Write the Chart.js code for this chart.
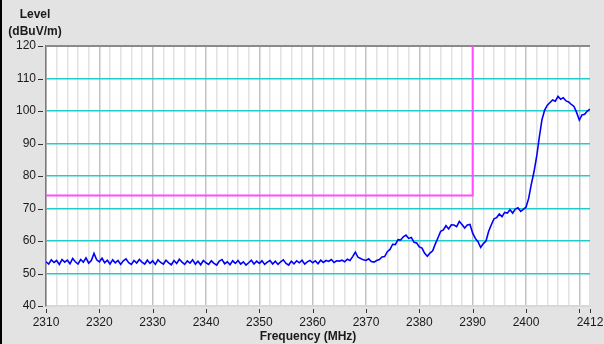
<!DOCTYPE html>
<html>
<head>
<meta charset="utf-8">
<script src="https://cdn.jsdelivr.net/npm/chart.js@4"></script>
<style>
  html, body { margin: 0; padding: 0; background: #e3e3e3; }
  #wrap { width: 604px; height: 344px; position: relative; }
</style>
</head>
<body>
<div id="wrap"><canvas id="levelChart" width="604" height="344"></canvas></div>
<script>
// sweep: 2310 .. 2412 MHz, one reading every 0.5 MHz
const freqStart = 2310;
const freqStep = 0.5;
const levels = [
  53.6, 52.9, 54.2, 53.4, 54.0, 52.8, 54.3, 53.5, 54.1, 53.0, 54.6, 53.6, 52.9, 54.3, 53.5, 54.8, 53.2, 54.0,
  56.2, 54.2, 53.6, 54.7, 53.3, 54.1, 52.9, 54.2, 53.3, 54.0, 52.8, 53.9, 54.5, 53.3, 52.8, 54.0, 53.2, 54.3, 53.5, 52.9, 54.1, 53.1,
  53.9, 52.8, 54.2, 53.4, 52.9, 54.1, 53.3, 52.7, 54.0, 53.1, 54.4, 53.5, 52.8, 53.9, 53.2, 54.2, 52.9, 53.8, 52.7, 54.0,
  53.3, 52.8, 53.9, 53.1, 52.6, 53.8, 54.3, 53.0, 53.6, 52.7, 53.9, 53.1, 54.0, 52.9, 53.6, 52.6, 53.3, 54.1, 52.9, 53.8,
  53.1, 53.9, 52.8, 53.5, 54.0, 52.9, 53.8, 52.8, 53.6, 54.2, 53.1, 52.6, 53.8, 53.0, 53.9, 53.3, 54.1, 52.9, 53.6, 54.0,
  53.3, 53.9, 53.0, 54.1, 53.4, 54.0, 53.7, 54.3, 53.4, 53.9, 53.8, 54.1, 53.6, 54.4, 54.0, 55.2, 56.6, 55.0, 54.6, 54.2,
  54.0, 54.5, 53.7, 53.5, 54.0, 54.3, 55.1, 55.2, 56.7, 57.4, 59.0, 58.9, 60.4, 60.3, 61.3, 61.8, 60.8, 61.1, 59.6, 59.4,
  58.2, 57.8, 56.2, 55.3, 56.3, 57.0, 59.1, 61.0, 63.0, 63.4, 64.7, 63.7, 65.0, 64.9, 64.4, 66.0, 65.1, 64.0, 64.9, 65.1,
  62.4, 60.8, 59.8, 58.0, 59.2, 60.0, 63.0, 65.0, 66.8, 67.2, 68.3, 67.5, 68.8, 68.6, 69.6, 68.6, 69.8, 70.2, 69.1, 69.7,
  70.4, 73.1, 77.5, 81.3, 86.0, 92.0, 97.4, 100.3, 101.8, 102.6, 103.4, 103.0, 104.5, 103.6, 104.1, 103.1, 102.8, 102.0, 101.4, 99.5,
  97.2, 98.8, 99.0, 100.0, 100.6
];

// limit line corners
const limitFreq = [2310, 2390, 2390];
const limitLevel = [74, 74, 120];

const xTickLabels = [2310, 2320, 2330, 2340, 2350, 2360, 2370, 2380, 2390, 2400, 2412];
const xTickMarks = [2310, 2320, 2330, 2340, 2350, 2360, 2370, 2380, 2390, 2400, 2410, 2412];
const yTickLabels = [40, 50, 60, 70, 80, 90, 100, 110, 120];

const tracePoints = levels.map((v, i) => ({ x: freqStart + i * freqStep, y: v }));
const limitPoints = limitFreq.map((f, i) => ({ x: f, y: limitLevel[i] }));

const FONT = "'Liberation Sans', Arial, sans-serif";

const frame = {
  id: "frame",
  beforeDraw(chart) {
    const { ctx, chartArea: a } = chart;
    ctx.save();
    ctx.fillStyle = "#e3e3e3";
    ctx.fillRect(0, 0, chart.width, chart.height);
    ctx.fillStyle = "#ffffff";
    ctx.fillRect(a.left, a.top, a.right - a.left, a.bottom - a.top);
    ctx.fillStyle = "#000000";
    ctx.fillRect(0, 0, 2, chart.height);
    ctx.restore();
  },
  afterDraw(chart) {
    const { ctx, chartArea: a, scales } = chart;
    ctx.save();
    ctx.strokeStyle = "#333333";
    ctx.lineWidth = 1;
    ctx.beginPath();
    xTickMarks.forEach(f => {
      const x = Math.round(scales.x.getPixelForValue(f)) + 0.5;
      ctx.moveTo(x, a.bottom + 3);
      ctx.lineTo(x, a.bottom + 7);
    });
    yTickLabels.forEach(v => {
      const y = Math.round(scales.y.getPixelForValue(v)) + 0.5;
      ctx.moveTo(a.left - 8, y);
      ctx.lineTo(a.left - 3, y);
    });
    ctx.stroke();

    ctx.fillStyle = "#1a1a1a";
    ctx.font = "bold 12px " + FONT;
    ctx.textAlign = "center";
    ctx.textBaseline = "middle";
    ctx.fillText("Level", 35, 15);
    ctx.fillText("(dBuV/m)", 35, 32);
    ctx.fillText("Frequency (MHz)", 308, 337);
    ctx.restore();
  }
};

const ctx = document.getElementById("levelChart").getContext("2d");
const levelChart = new Chart(ctx, {
  type: "line",
  data: {
    datasets: [
      {
        label: "Level",
        data: tracePoints,
        borderColor: "#0000ff",
        borderWidth: 1.6,
        pointRadius: 0,
        tension: 0,
      },
      {
        label: "Limit",
        data: limitPoints,
        borderColor: "#ff4dff",
        borderWidth: 2,
        pointRadius: 0,
        tension: 0,
      },
    ],
  },
  options: {
    responsive: false,
    animation: false,
    layout: { padding: { top: 46, right: 14, left: 0, bottom: 0 } },
    plugins: { legend: { display: false }, tooltip: { enabled: false } },
    scales: {
      x: {
        type: "linear",
        min: 2310,
        max: 2412,
        afterBuildTicks(scale) {
          const ticks = [];
          for (let f = 2310; f <= 2412; f += 2) ticks.push({ value: f });
          scale.ticks = ticks;
        },
        afterFit(scale) {
          scale.height = 38;
          scale.paddingLeft = 0;
          scale.paddingRight = 0;
        },
        ticks: {
          autoSkip: false,
          maxRotation: 0,
          padding: 9,
          color: "#1a1a1a",
          font: { family: FONT, size: 12 },
          callback: v => (xTickLabels.includes(v) ? String(v) : ""),
        },
        grid: {
          drawTicks: false,
          lineWidth: 1.5,
          color: c => (c.tick && c.tick.value % 10 === 0 ? "#c2c2c2" : "#e2e2e2"),
        },
        border: { color: "#d8d8d8", width: 1 },
      },
      y: {
        min: 40,
        max: 120,
        afterBuildTicks(scale) {
          scale.ticks = yTickLabels.map(v => ({ value: v }));
        },
        afterFit(scale) {
          scale.width = 46;
          scale.paddingTop = 0;
          scale.paddingBottom = 0;
        },
        ticks: {
          padding: 10,
          color: "#1a1a1a",
          font: { family: FONT, size: 12 },
        },
        grid: {
          drawTicks: false,
          lineWidth: c => (c.tick && c.tick.value === 120 ? 2 : 1.5),
          color: c => {
            const v = c.tick && c.tick.value;
            if (v === 120) return "#8a8a8a";
            if (v === 40) return "#d8d8d8";
            return "#22cccc";
          },
        },
        border: { color: "#7a7a7a", width: 1.5 },
      },
    },
  },
  plugins: [frame],
});
</script>
</body>
</html>
